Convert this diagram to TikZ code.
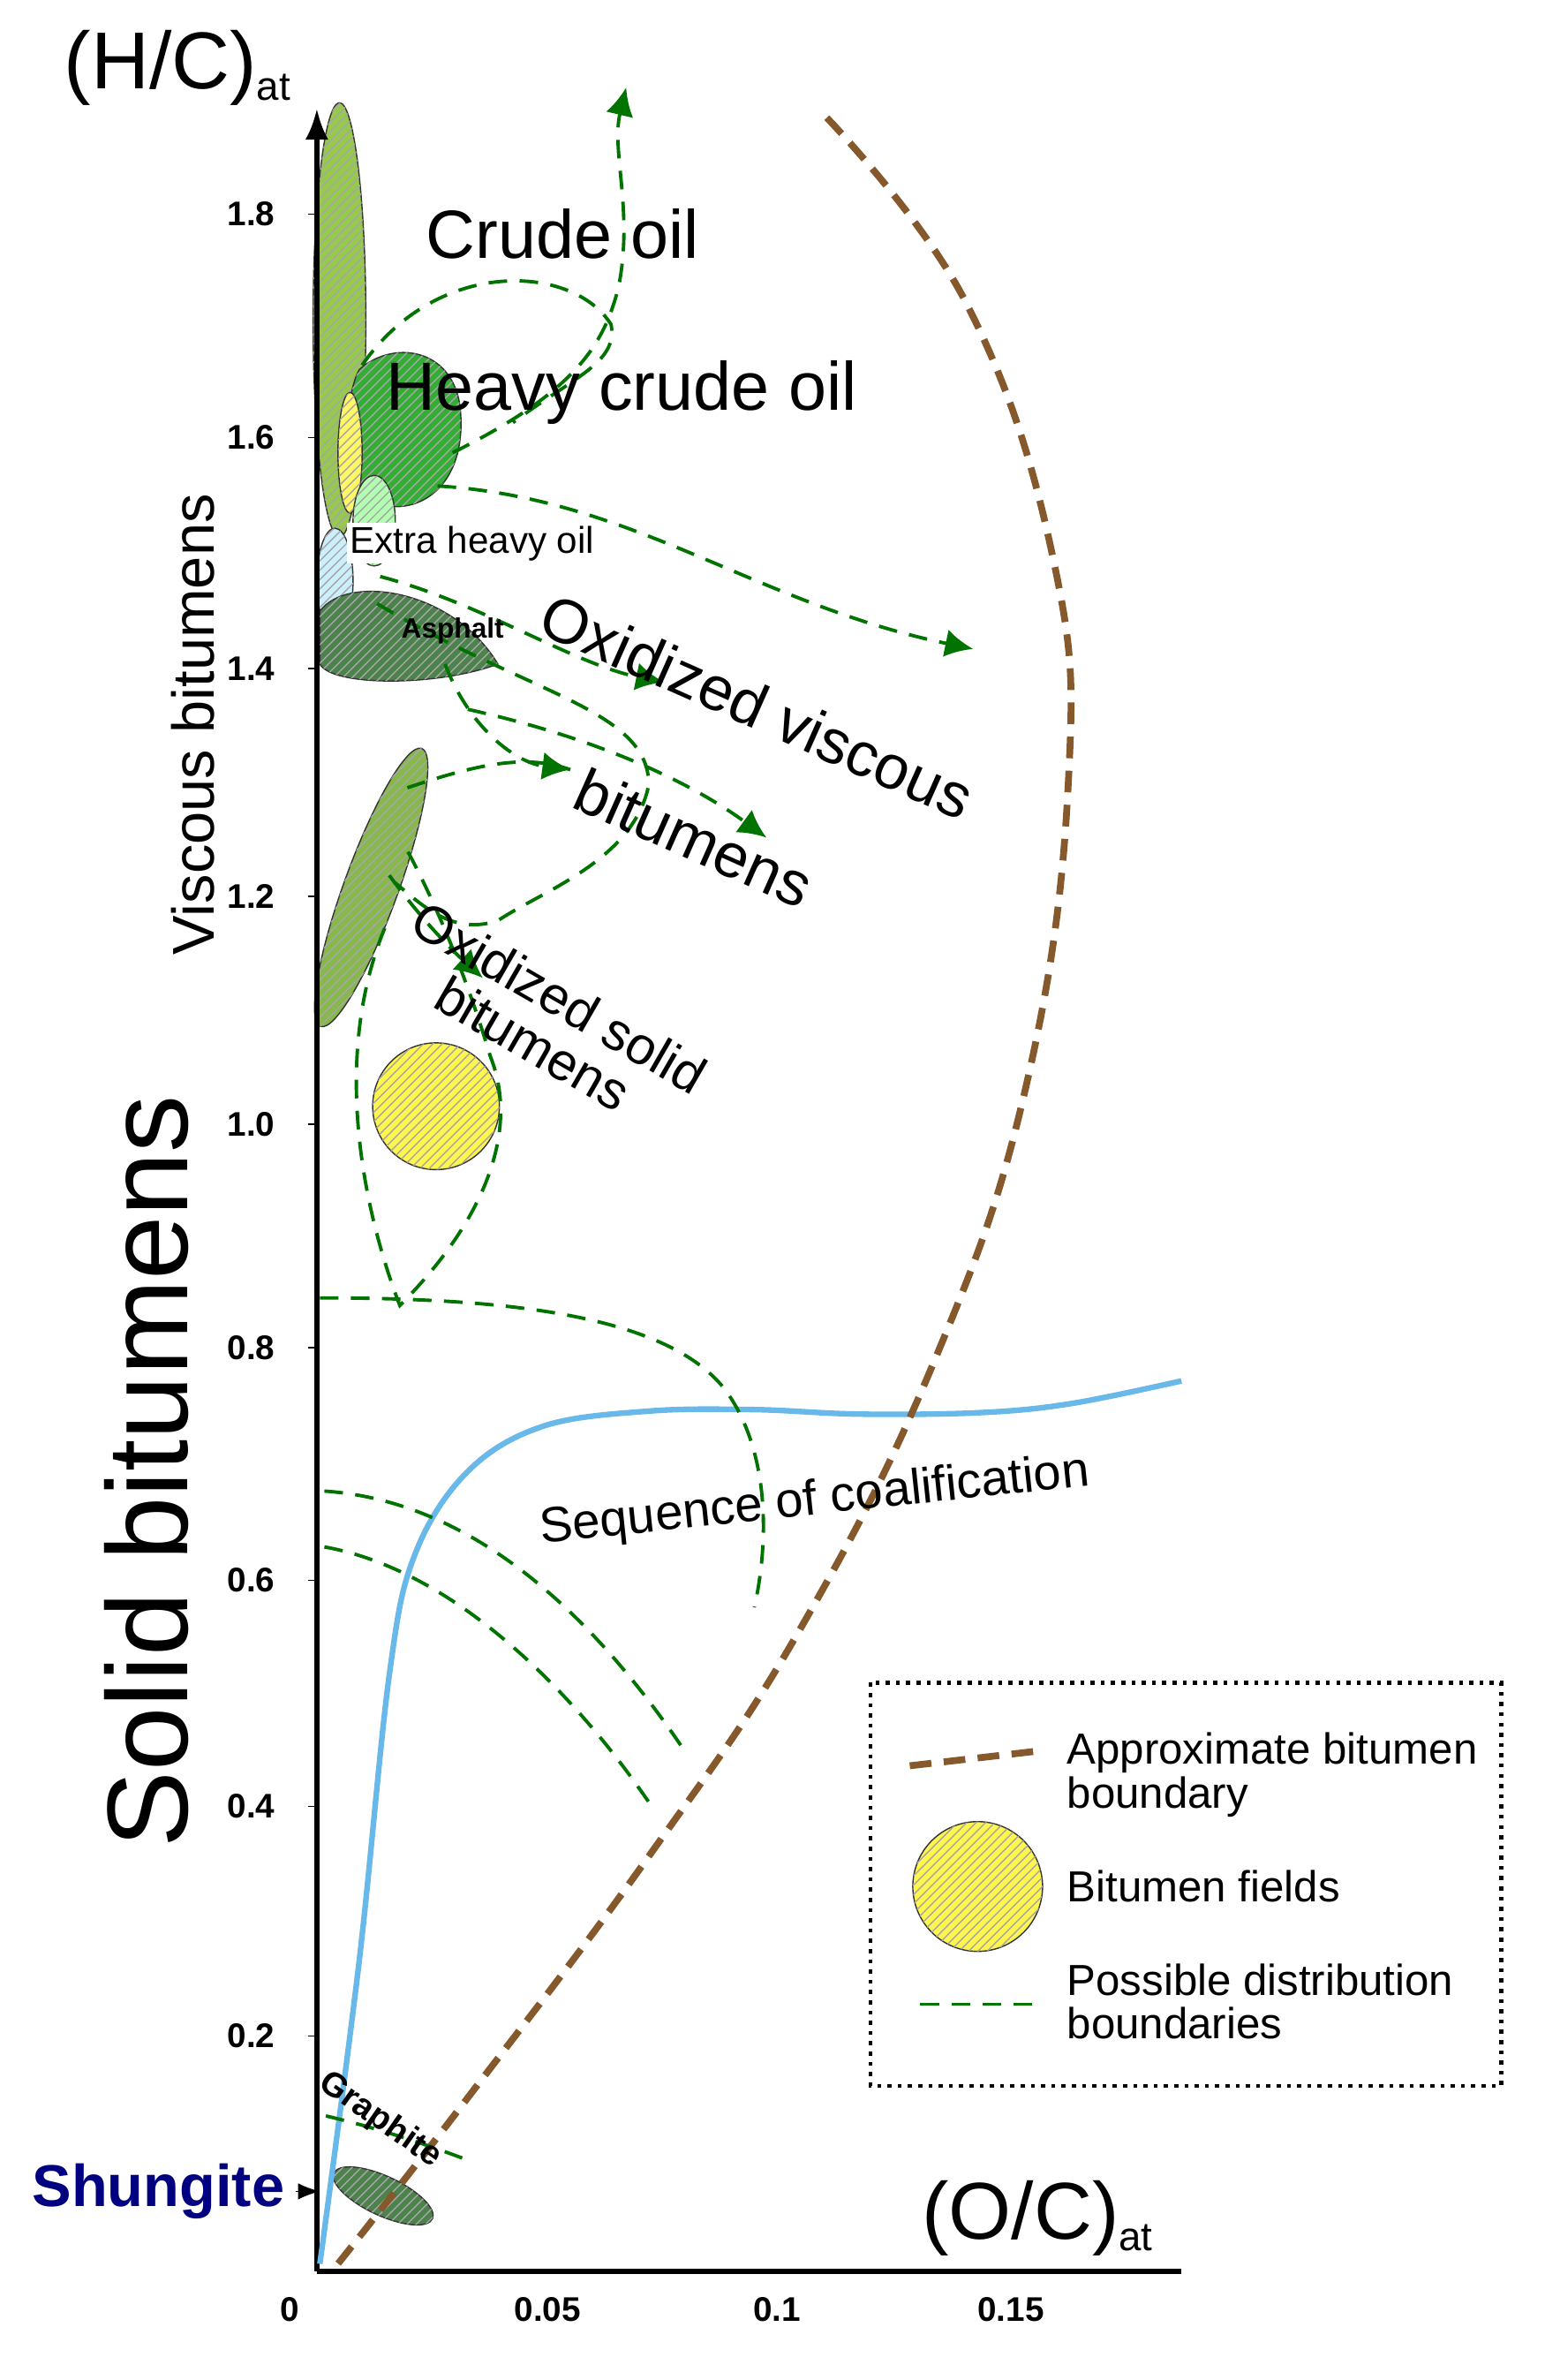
\documentclass[tikz,border=0pt]{standalone}
\usepackage{fontspec}
\setmainfont{Liberation Sans}
\usetikzlibrary{patterns,arrows.meta,shapes.geometric}
\tikzset{
  bnd/.style={dashed,draw=green!45!black,line width=1.1pt,dash pattern=on 6pt off 4pt},
  barr/.style={bnd,-{Latex[length=9pt,width=9pt]}},
  brown bnd/.style={draw=brown!70!black,line width=2.2pt,dash pattern=on 7pt off 4pt},
  hatch/.style={fill=#1,draw=black!80,postaction={pattern=north east lines,pattern color=black!35}},
  tick/.style={font=\bfseries\fontsize{11}{12}\selectfont,anchor=east},
  lab/.style={font=\fontsize{#1}{#1}\selectfont}
}
\begin{document}
\begin{tikzpicture}[x=0.01709cm,y=-0.01709cm]
  \useasboundingbox (0,0) rectangle (1024,1577);
  % regions
  \node[hatch=green!40!yellow!70!black!70,ellipse,minimum width=17pt,minimum height=140pt,inner sep=0] (oil) at (225,212) {};
  \draw[hatch=green!60!black!80] (238,245) .. controls (260,225) and (300,230) .. (305,270) .. controls (310,320) and (280,340) .. (255,335) .. controls (230,330) and (225,270) .. (238,245);
  \draw[hatch=yellow!60] (232,300) ellipse (8 and 40);
  \draw[hatch=green!30!white] (248,345) ellipse (14 and 30);
  \draw[hatch=cyan!20] (222,385) ellipse (12 and 35);
  \draw[hatch=green!30!black!70] (212,405) .. controls (230,380) and (300,390) .. (330,440) .. controls (290,455) and (220,455) .. (212,440) -- cycle;
  \draw[hatch=green!45!yellow!60!black!70,rotate around={70:(246,588)}] (246,588) ellipse (98 and 18);
  \draw[hatch=yellow!70!white] (289,733) circle (42);
  \draw[hatch=green!30!black!70,rotate around={-25:(254,1455)}] (254,1455) ellipse (36 and 13);
  % axes
  \draw[line width=1.6pt,-{Latex[length=10pt]}] (210,1505) -- (210,72);
  \draw[line width=1.6pt] (210,1505) -- (783,1505);
  \foreach \v/\y in {1.8/142,1.6/290,1.4/443,1.2/594,1.0/745,0.8/893,0.6/1047,0.4/1197,0.2/1349}
    \draw (204,\y) -- (210,\y) node[tick,xshift=-10pt] {\v};
  \foreach \v/\x in {0/192,0.05/363,0.1/515,0.15/670}
    \node[font=\bfseries\fontsize{11}{12}\selectfont] at (\x,1530) {\v};
  \node[lab=26] (hc) at (118,45) {(H/C)\textsubscript{\fontsize{13}{13}\selectfont at}};
  \node[lab=26] (oc) at (688,1470) {(O/C)\textsubscript{\fontsize{13}{13}\selectfont at}};
  % coalification and boundary
  \draw[cyan!80!blue!60,line width=1.8pt] plot[smooth,tension=0.6] coordinates {(212,1500) (238,1300) (258,1110) (275,1030) (310,975) (360,945) (430,935) (500,934) (570,937) (650,936) (710,930) (783,915)};
  \draw[brown bnd] plot[smooth,tension=0.7] coordinates {(548,78) (640,200) (698,370) (708,520) (680,720) (620,900) (530,1080) (430,1230) (310,1390) (220,1505)};
  % boundaries
  \draw[bnd] (240,242) .. controls (290,170) and (380,175) .. (405,215) .. controls (410,240) and (380,250) .. (340,280);
  \draw[barr] (300,300) .. controls (380,260) and (400,230) .. (410,190) .. controls (420,140) and (405,100) .. (415,58);
  \draw[barr] (290,322) .. controls (420,330) and (500,400) .. (645,430);
  \draw[barr] (252,382) .. controls (320,400) and (380,440) .. (440,452);
  \draw[bnd] (250,400) .. controls (350,460) and (430,470) .. (430,520) .. controls (420,570) and (360,590) .. (330,610) .. controls (300,620) and (280,600) .. (262,585);
  \draw[barr] (295,440) .. controls (310,480) and (340,505) .. (378,510);
  \draw[barr] (310,470) .. controls (400,490) and (460,520) .. (508,555);
  \draw[bnd] (270,522) .. controls (320,505) and (350,500) .. (378,510);
  \draw[barr] (258,580) .. controls (280,610) and (300,630) .. (320,648);
  \draw[bnd] (255,615) .. controls (220,700) and (240,800) .. (265,865) .. controls (320,810) and (345,750) .. (325,700) .. controls (310,650) and (290,600) .. (268,560);
  \draw[bnd] (212,860) .. controls (330,860) and (440,870) .. (480,920) .. controls (510,960) and (510,1020) .. (500,1065);
  \draw[bnd] (215,988) .. controls (320,995) and (400,1080) .. (455,1162);
  \draw[bnd] (215,1025) .. controls (300,1040) and (380,1120) .. (432,1197);
  \draw[bnd] (216,1402) .. controls (250,1410) and (280,1420) .. (312,1432);
  % labels
  \node[lab=22] (crude) at (373,155) {Crude oil};
  \node[lab=22] (heavy) at (412,260) {Heavy crude oil};
  \node[lab=12,fill=white,inner sep=1pt] (extra) at (313,360) {Extra heavy oil};
  \node[font=\bfseries\fontsize{9}{9}\selectfont] (asph) at (300,418) {Asphalt};
  \node[lab=20,rotate=-24] (oxv) at (502,468) {Oxidized viscous};
  \node[lab=20,rotate=-24] (oxvb) at (460,555) {bitumens};
  \node[lab=17,rotate=-30,align=center] (oxs) at (362,676) {Oxidized solid\\bitumens};
  \node[lab=16,rotate=6] (seq) at (540,995) {Sequence of coalification};
  \node[font=\bfseries\fontsize{11}{11}\selectfont,rotate=-35] (graph) at (252,1405) {Graphite};
  \node[lab=19,rotate=90] (visc) at (128,480) {Viscous bitumens};
  \node[lab=37,rotate=90] (solid) at (97,975) {Solid bitumens};
  \node[font=\bfseries\fontsize{19}{19}\selectfont,text=blue!50!black] (shun) at (105,1452) {Shungite};
  \draw[-{Latex[length=7pt]}] (shun.east) -- (212,1452);
  % legend
  \draw[dotted,line width=1.3pt] (577,1115) rectangle (995,1382);
  \draw[brown bnd] (603,1170) -- (690,1160);
  \node[lab=14,anchor=west,align=left] (l1) at (700,1176) {Approximate bitumen\\boundary};
  \draw[hatch=yellow!70!white] (648,1250) circle (43);
  \node[lab=14,anchor=west] (l2) at (700,1250) {Bitumen fields};
  \draw[bnd] (610,1328) -- (685,1328);
  \node[lab=14,anchor=west,align=left] (l3) at (700,1326) {Possible distribution\\boundaries};
\end{tikzpicture}
\end{document}
